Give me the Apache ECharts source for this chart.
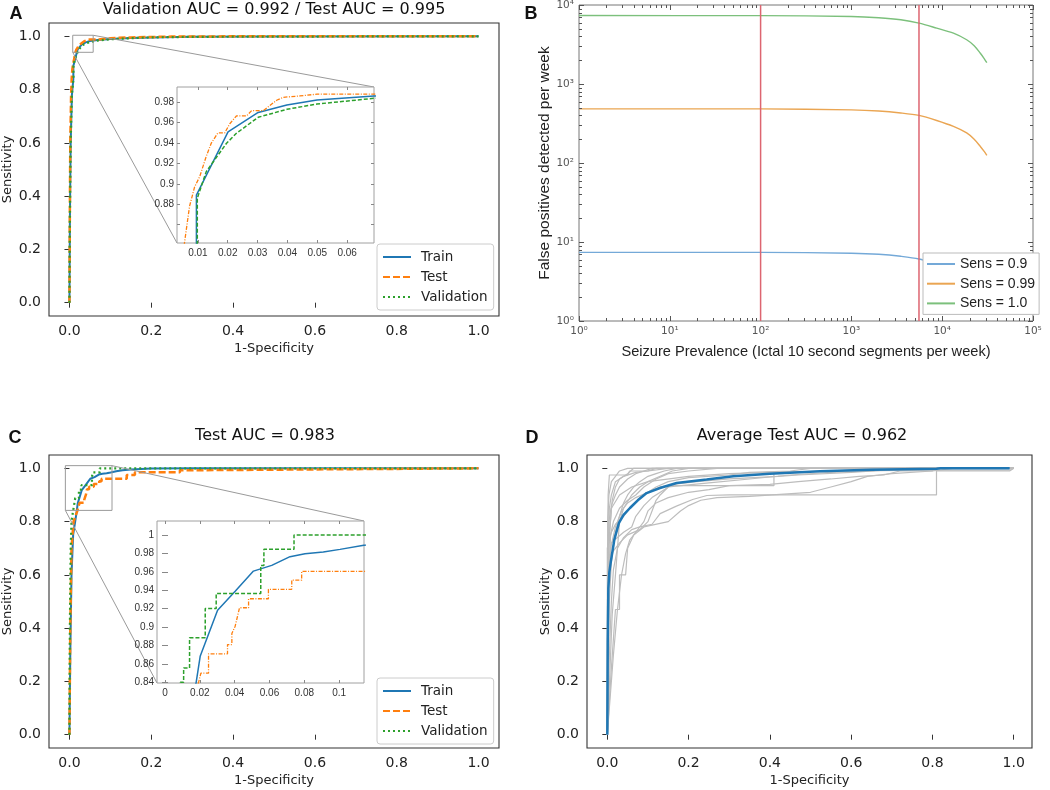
<!DOCTYPE html>
<html><head><meta charset="utf-8">
<script src="https://cdn.jsdelivr.net/npm/echarts@6/dist/echarts.min.js"></script>
<style>html,body{margin:0;padding:0;background:#fff}#c{width:1050px;height:790px}</style>
</head><body><div id="c"></div>
<script>
// ================= DATA =================
// Panel A: ROC curves [1-specificity, sensitivity]
const trainA = [[0,0],[0.001,0.3],[0.003,0.6],[0.006,0.78],[0.0095,0.84],[0.0095,0.889],[0.0201,0.951],[0.0302,0.970],[0.0398,0.9774],[0.0499,0.9823],[0.069,0.9862],[0.1,0.990],[0.15,0.994],[0.2,0.996],[0.3,0.998],[0.5,0.999],[1,1]];
const testA = [[0,0],[0.001,0.35],[0.002,0.6],[0.004,0.78],[0.0055,0.842],[0.0072,0.878],[0.0089,0.897],[0.0106,0.907],[0.0128,0.927],[0.0145,0.94],[0.0167,0.95],[0.019,0.95],[0.0207,0.959],[0.0229,0.9666],[0.0263,0.9666],[0.028,0.9718],[0.0319,0.9718],[0.0364,0.982],[0.0386,0.9849],[0.0442,0.9862],[0.0499,0.988],[0.069,0.988],[0.1,0.993],[0.15,0.996],[0.25,0.999],[0.4,1],[1,1]];
const valA = [[0,0],[0.001,0.3],[0.003,0.6],[0.006,0.78],[0.0098,0.84],[0.0098,0.886],[0.0128,0.912],[0.0196,0.9398],[0.0229,0.9496],[0.0302,0.9653],[0.0398,0.9731],[0.0499,0.9783],[0.069,0.9839],[0.1,0.989],[0.15,0.993],[0.2,0.996],[0.3,0.998],[0.5,0.999],[1,1]];
const zoomBoxA = {x:[0.008,0.058], y:[0.94,1.004]};
const insetRangeA = {x:[0.003,0.069], y:[0.842,0.995]};
const insetTicksAx = [0.01,0.02,0.03,0.04,0.05,0.06];
const insetTicksAy = [0.86,0.88,0.9,0.92,0.94,0.96,0.98];
const insetLabelsAy = [0.88,0.9,0.92,0.94,0.96,0.98];

// Panel B: false positives per week vs seizure prevalence
const prevalence = [1,100,1000,2000,3500,5550,8700,13300,18600,22500,26300,29000,31000];
const fpSens090 = [7.4,7.4,7.2,7.0,6.6,6.1,5.2,4.4,3.6,3.0,2.5,2.1,1.9];
const fpSens099 = [485,484,470,455,430,400,345,290,240,200,162,140,125];
const fpSens100 = [7350,7330,7150,6900,6500,5900,5100,4400,3630,3050,2450,2100,1860];
const redLinesB = [100,5550];

// Panel C
const trainC = [[0,0],[0.002,0.3],[0.005,0.6],[0.009,0.75],[0.014,0.8],[0.0179,0.84],[0.0202,0.8683],[0.0302,0.9184],[0.0403,0.939],[0.0508,0.9608],[0.0613,0.967],[0.0718,0.9765],[0.0804,0.9797],[0.0909,0.9815],[0.1005,0.9844],[0.1142,0.9888],[0.13,0.993],[0.15,0.996],[0.2,0.999],[0.3,1],[1,1]];
const testC = [[0,0],[0.002,0.4],[0.005,0.7],[0.01,0.8],[0.0193,0.84],[0.0206,0.85],[0.025,0.85],[0.025,0.871],[0.0359,0.871],[0.0359,0.881],[0.0384,0.881],[0.0384,0.893],[0.0403,0.901],[0.0428,0.921],[0.048,0.921],[0.048,0.9308],[0.0594,0.9308],[0.0594,0.941],[0.0728,0.941],[0.0728,0.951],[0.0785,0.951],[0.0785,0.9605],[0.14,0.9605],[0.14,0.975],[0.16,0.975],[0.16,0.985],[0.27,0.985],[0.27,0.993],[0.33,0.993],[0.33,1],[1,1]];
const valC = [[0,0],[0.001,0.4],[0.003,0.7],[0.005,0.8],[0.0088,0.84],[0.0107,0.84],[0.0107,0.8557],[0.0141,0.8557],[0.0141,0.8884],[0.0231,0.8884],[0.0231,0.9202],[0.0294,0.9202],[0.0294,0.9366],[0.055,0.9366],[0.055,0.967],[0.0568,0.967],[0.0568,0.9844],[0.0741,0.9844],[0.0741,1],[1,1]];
const zoomBoxC = {x:[-0.01,0.104], y:[0.842,1.01]};
const insetRangeC = {x:[-0.0046,0.1143], y:[0.8393,1.0152]};
const insetTicksCx = [0,0.02,0.04,0.06,0.08,0.1];
const insetTicksCy = [0.84,0.86,0.88,0.9,0.92,0.94,0.96,0.98,1];

// Panel D: individual test ROC curves (gray) and their average (blue)
const grayD = [
 [[0,0],[0.001,0.6],[0.002,0.9],[0.005,0.975],[0.05,0.975],[0.055,0.99],[0.1,0.99],[0.12,1],[1,1]],
 [[0,0],[0.005,0.3],[0.01,0.5],[0.015,0.62],[0.025,0.7],[0.04,0.74],[0.06,0.77],[0.08,0.78],[0.11,0.79],[0.13,0.83],[0.17,0.858],[0.21,0.883],[0.245,0.898],[0.3,0.9],[0.81,0.9],[0.81,0.99],[0.99,0.99],[1,1]],
 [[0,0],[0.002,0.55],[0.008,0.7],[0.02,0.78],[0.035,0.84],[0.05,0.87],[0.07,0.89],[0.1,0.91],[0.13,0.93],[0.155,0.935],[0.41,0.935],[0.41,0.985],[0.55,0.99],[0.7,1],[1,1]],
 [[0,0],[0.01,0.25],[0.02,0.47],[0.03,0.47],[0.03,0.6],[0.045,0.6],[0.05,0.7],[0.065,0.75],[0.09,0.78],[0.15,0.8],[0.18,0.84],[0.2,0.86],[0.23,0.88],[0.27,0.89],[0.35,0.895],[0.5,0.91],[0.55,0.93],[0.6,0.95],[0.64,0.97],[0.7,0.98],[0.8,0.99],[0.85,1],[1,1]],
 [[0,0],[0.003,0.6],[0.01,0.72],[0.025,0.74],[0.04,0.76],[0.06,0.78],[0.07,0.82],[0.09,0.86],[0.11,0.89],[0.14,0.92],[0.16,0.94],[0.22,0.95],[0.3,0.96],[0.42,0.97],[0.47,0.975],[0.6,0.985],[0.7,0.995],[0.75,1],[1,1]],
 [[0,0],[0.002,0.7],[0.005,0.85],[0.01,0.9],[0.02,0.95],[0.04,0.97],[0.07,0.985],[0.1,0.99],[0.15,1],[1,1]],
 [[0,0],[0.001,0.5],[0.005,0.75],[0.012,0.88],[0.02,0.93],[0.03,0.96],[0.05,0.98],[0.065,1],[1,1]],
 [[0,0],[0.012,0.45],[0.02,0.6],[0.025,0.7],[0.03,0.8],[0.04,0.85],[0.06,0.9],[0.08,0.93],[0.1,0.95],[0.13,0.97],[0.16,0.99],[0.2,1],[1,1]],
 [[0,0],[0.003,0.55],[0.01,0.68],[0.03,0.72],[0.05,0.75],[0.08,0.77],[0.1,0.8],[0.11,0.84],[0.12,0.88],[0.13,0.9],[0.15,0.93],[0.25,0.945],[0.35,0.96],[0.45,0.975],[0.55,0.985],[0.65,0.99],[0.7,1],[1,1]],
 [[0,0],[0.005,0.5],[0.01,0.65],[0.02,0.76],[0.03,0.82],[0.04,0.87],[0.05,0.9],[0.065,0.93],[0.08,0.95],[0.1,0.97],[0.12,0.98],[0.14,0.99],[0.17,1],[1,1]],
 [[0,0],[0.002,0.6],[0.004,0.8],[0.01,0.86],[0.02,0.9],[0.03,0.93],[0.05,0.96],[0.07,0.98],[0.09,0.99],[0.11,1],[1,1]],
 [[0,0],[0,0.7],[0.01,0.76],[0.02,0.79],[0.04,0.82],[0.06,0.86],[0.08,0.89],[0.1,0.91],[0.12,0.93],[0.15,0.95],[0.2,0.965],[0.3,0.975],[0.35,0.985],[0.45,0.99],[0.5,1],[1,1]],
 [[0,0],[0.015,0.3],[0.025,0.47],[0.035,0.6],[0.045,0.68],[0.055,0.73],[0.07,0.76],[0.09,0.8],[0.1,0.84],[0.12,0.87],[0.15,0.89],[0.2,0.91],[0.25,0.92],[0.3,0.935],[0.4,0.94],[0.47,0.95],[0.55,0.96],[0.62,0.97],[0.68,0.975],[0.72,0.99],[0.8,0.99],[0.8,1],[1,1]],
 [[0,0],[0.001,0.8],[0.004,0.9],[0.01,0.95],[0.02,0.97],[0.03,0.99],[0.05,1],[1,1]],
 [[0,0],[0.004,0.6],[0.008,0.75],[0.015,0.8],[0.03,0.85],[0.05,0.88],[0.07,0.9],[0.09,0.93],[0.12,0.96],[0.15,0.98],[0.2,0.99],[0.27,1],[1,1]],
 [[0,0],[0.003,0.7],[0.01,0.85],[0.03,0.9],[0.06,0.93],[0.1,0.95],[0.2,0.97],[0.3,0.98],[0.4,0.985],[0.6,0.99],[0.8,0.993],[0.99,0.993],[1,1]]
];
const meanD = [[0,0],[0.001,0.35],[0.0025,0.55],[0.005,0.61],[0.0082,0.645],[0.0172,0.732],[0.0287,0.795],[0.04,0.825],[0.0557,0.851],[0.075,0.88],[0.0967,0.907],[0.1295,0.926],[0.1705,0.945],[0.2443,0.958],[0.31,0.97],[0.4,0.98],[0.523,0.989],[0.65,0.995],[0.81,0.998],[0.82,1.0],[0.99,1.0]];

const mainTicks = [0,0.2,0.4,0.6,0.8,1.0];
const rocNames = ['Train','Test','Validation'];
const sensNames = ['Sens = 0.9','Sens = 0.99','Sens = 1.0'];

// ================= LAYOUT / STYLE =================
const F = 'DejaVu Sans', FA = 'Liberation Sans';
const G = {
  A:{left:49,top:23,width:450,height:293},
  Ain:{left:177,top:87,width:197,height:156},
  B:{left:579,top:5,width:454,height:316},
  C:{left:49,top:455,width:450,height:293},
  Cin:{left:157,top:521,width:207,height:162},
  D:{left:587,top:455,width:445,height:293}
};
const C_BLUE='#1f77b4', C_OR='#ff7f0e', C_GR='#2ca02c';

function grid(g, extra){ return Object.assign({left:g.left,top:g.top,width:g.width,height:g.height,show:true,borderColor:'#333',borderWidth:1.1,backgroundColor:'rgba(0,0,0,0)',containLabel:false,outerBoundsMode:'none'}, extra||{}); }
function mainX(gi,min,max){ return {type:'value',gridIndex:gi,min,max,name:'1-Specificity',nameLocation:'middle',nameGap:26,
  nameTextStyle:{fontFamily:F,fontSize:13,color:'#222'},axisLine:{show:false},splitLine:{show:false},
  axisTick:{show:true,length:5,lineStyle:{color:'#333',width:1},customValues:mainTicks},
  axisLabel:{fontFamily:F,fontSize:14,color:'#222',margin:8,customValues:mainTicks,formatter:v=>v.toFixed(1)}}; }
function mainY(gi,min,max){ return {type:'value',gridIndex:gi,min,max,name:'Sensitivity',nameLocation:'middle',nameGap:35,nameRotate:90,
  nameTextStyle:{fontFamily:F,fontSize:13,color:'#222'},axisLine:{show:false},splitLine:{show:false},
  axisTick:{show:true,length:5,lineStyle:{color:'#333',width:1},customValues:mainTicks},
  axisLabel:{fontFamily:F,fontSize:14,color:'#222',margin:8,customValues:mainTicks,formatter:v=>v.toFixed(1)}}; }
function insetAxis(kind,gi,range,ticks,labels,pos,showLab){
  return {type:'value',gridIndex:gi,min:range[0],max:range[1],position:pos,z:6,
    axisLine:{show:false},splitLine:{show:false},
    axisTick:{show:true,inside:true,length:3,lineStyle:{color:'#888',width:1},customValues:ticks},
    axisLabel:{show:showLab,fontFamily:FA,fontSize:10,color:'#333',margin:kind==='x'?5:3,customValues:labels}};
}
const supDigits = ['⁰','¹','²','³','⁴','⁵'];
function logAxis(gi,min,max,pos,showLab){
  return {type:'log',logBase:10,gridIndex:gi,min,max,position:pos,
    axisLine:{show:false},splitLine:{show:false},minorTick:{show:false},
    axisTick:{show:true,inside:true,length:5,lineStyle:{color:'#555',width:1}},
    axisLabel:{show:showLab,fontFamily:F,fontSize:10.5,color:'#555',margin:5,
      formatter:v=>'10'+supDigits[Math.round(Math.log10(v))]}};
}

function lineSeries(name,data,xi,yi,style,z,smooth){
  return {type:'line',name,data,xAxisIndex:xi,yAxisIndex:yi,symbol:'none',showSymbol:false,clip:true,z:z||2,
    smooth:smooth||false,silent:true,animation:false,lineStyle:style,itemStyle:{color:style.color}};
}
// zoom box + connector lines (box in main data coords, connectors to the inset grid corners)
function connectorSeries(xi,yi,box,ins){
  return {type:'custom',xAxisIndex:xi,yAxisIndex:yi,data:[[0,0]],z:3,silent:true,animation:false,clip:false,
    renderItem:function(params,api){
      const p0 = api.coord([box.x[0],box.y[0]]);
      const p1 = api.coord([box.x[1],box.y[1]]);
      const st = {stroke:'#9a9a9a',lineWidth:1,fill:null};
      return {type:'group',children:[
        {type:'rect',shape:{x:p0[0],y:p1[1],width:p1[0]-p0[0],height:p0[1]-p1[1]},style:st},
        {type:'line',shape:{x1:p1[0],y1:p1[1],x2:ins.left+ins.width,y2:ins.top},style:st},
        {type:'line',shape:{x1:p0[0],y1:p0[1],x2:ins.left,y2:ins.top+ins.height},style:st}
      ]};
    }};
}

const styTrain = {color:C_BLUE,width:2};
const styTest = {color:C_OR,width:2.5,type:[7,3]};
const styVal = {color:C_GR,width:2.2,type:[2,3]};
const styTrainIn = {color:C_BLUE,width:1.5};
const styTestIn = {color:C_OR,width:1.3,type:[4,1.5,1,1.5]};
const styValIn = {color:C_GR,width:1.5,type:[4,2]};

const series = [
  lineSeries('Train',trainA,0,0,styTrain),
  lineSeries('Test',testA,0,0,styTest),
  lineSeries('Validation',valA,0,0,styVal),
  connectorSeries(0,0,zoomBoxA,G.Ain),
  lineSeries('Train (inset A)',trainA,1,1,styTrainIn,7),
  lineSeries('Test (inset A)',testA,1,1,styTestIn,7),
  lineSeries('Validation (inset A)',valA,1,1,styValIn,7),
  lineSeries(sensNames[0],prevalence.map((x,i)=>[x,fpSens090[i]]),3,3,{color:'#74a9d8',width:1.4},2,0.3),
  lineSeries(sensNames[1],prevalence.map((x,i)=>[x,fpSens099[i]]),3,3,{color:'#eaa552',width:1.4},2,0.3),
  lineSeries(sensNames[2],prevalence.map((x,i)=>[x,fpSens100[i]]),3,3,{color:'#7cc07c',width:1.4},2,0.3),
  ...redLinesB.map((x,i)=>lineSeries('marker'+i,[[x,1],[x,10000]],3,3,{color:'#dd6570',width:1.5},3)),
  {type:'custom',xAxisIndex:3,yAxisIndex:3,data:[[1,1]],z:4,silent:true,animation:false,clip:false,
    renderItem:function(params,api){
      const cs = params.coordSys; const ch=[]; const st={stroke:'#555',lineWidth:1};
      for(let d=0;d<5;d++) for(let k=2;k<10;k++){ const px=Math.round(api.coord([k*Math.pow(10,d),1])[0])+0.5;
        ch.push({type:'line',shape:{x1:px,y1:cs.y+cs.height,x2:px,y2:cs.y+cs.height-3},style:st});
        ch.push({type:'line',shape:{x1:px,y1:cs.y,x2:px,y2:cs.y+3},style:st}); }
      for(let d=0;d<4;d++) for(let k=2;k<10;k++){ const py=Math.round(api.coord([1,k*Math.pow(10,d)])[1])+0.5;
        ch.push({type:'line',shape:{x1:cs.x,y1:py,x2:cs.x+3,y2:py},style:st});
        ch.push({type:'line',shape:{x1:cs.x+cs.width,y1:py,x2:cs.x+cs.width-3,y2:py},style:st}); }
      return {type:'group',children:ch};
    }},
  lineSeries('Train',trainC,5,5,styTrain),
  lineSeries('Test',testC,5,5,styTest),
  lineSeries('Validation',valC,5,5,styVal),
  connectorSeries(5,5,zoomBoxC,G.Cin),
  lineSeries('Train (inset C)',trainC,6,6,styTrainIn,7),
  lineSeries('Test (inset C)',testC,6,6,styTestIn,7),
  lineSeries('Validation (inset C)',valC,6,6,styValIn,7),
  ...grayD.map((d,i)=>lineSeries('fold'+i,d,8,8,{color:'#bdbdbd',width:1.2})),
  lineSeries('Average',meanD,8,8,{color:C_BLUE,width:2.5},3)
];

function legendBox(names,left,top,extra){
  return Object.assign({data:names,left,top,orient:'vertical',selectedMode:false,z:10,
    itemWidth:28,itemHeight:14,itemGap:6,padding:[6,6,6,5],backgroundColor:'#fff',borderColor:'#cccccc',borderWidth:1,borderRadius:3,
    itemStyle:{opacity:0},
    textStyle:{fontFamily:F,fontSize:13.5,color:'#222',padding:[0,0,0,5]}},extra||{});
}

function txt(x,y,t,size,fam,weight,align){
  return {type:'text',x,y,z:20,style:{text:t,fontSize:size,fontFamily:fam,fontWeight:weight||'normal',fill:'#111',
    align:align||'center',textAlign:align||'center',verticalAlign:'middle',textVerticalAlign:'middle'}};
}

const option = {
  animation:false,
  backgroundColor:'#fff',
  grid:[grid(G.A),grid(G.Ain,{z:5,backgroundColor:'#fff',borderColor:'#a0a0a0',borderWidth:1}),grid(G.B,{borderColor:'#777',borderWidth:1}),
        grid(G.C),grid(G.Cin,{z:5,backgroundColor:'#fff',borderColor:'#a0a0a0',borderWidth:1}),grid(G.D)],
  xAxis:[
    mainX(0,-0.05,1.05),
    insetAxis('x',1,insetRangeA.x,insetTicksAx,insetTicksAx,'bottom',true),
    insetAxis('x',1,insetRangeA.x,insetTicksAx,insetTicksAx,'top',false),
    Object.assign(logAxis(2,1,100000,'bottom',true),{name:'Seizure Prevalence (Ictal 10 second segments per week)',nameLocation:'middle',nameGap:23,
      nameTextStyle:{fontFamily:FA,fontSize:14.6,color:'#222'}}),
    logAxis(2,1,100000,'top',false),
    mainX(3,-0.05,1.05),
    insetAxis('x',4,insetRangeC.x,insetTicksCx,insetTicksCx,'bottom',true),
    insetAxis('x',4,insetRangeC.x,insetTicksCx,insetTicksCx,'top',false),
    mainX(5,-0.05,1.045)
  ],
  yAxis:[
    mainY(0,-0.05,1.05),
    insetAxis('y',1,insetRangeA.y,insetTicksAy,insetLabelsAy,'left',true),
    insetAxis('y',1,insetRangeA.y,insetTicksAy,insetLabelsAy,'right',false),
    Object.assign(logAxis(2,1,10000,'left',true),{name:'False positives detected per week',nameLocation:'middle',nameGap:24,nameRotate:90,
      nameTextStyle:{fontFamily:FA,fontSize:15.5,color:'#222'}}),
    logAxis(2,1,10000,'right',false),
    mainY(3,-0.05,1.05),
    insetAxis('y',4,insetRangeC.y,insetTicksCy,insetTicksCy,'left',true),
    insetAxis('y',4,insetRangeC.y,insetTicksCy,insetTicksCy,'right',false),
    mainY(5,-0.05,1.05)
  ],
  legend:[
    legendBox(rocNames,377,244),
    legendBox(sensNames,923,253,{padding:[4,4,4,3],itemGap:5.7,textStyle:{fontFamily:FA,fontSize:14,color:'#222',padding:[0,0,0,0]},borderColor:'#bbb',borderRadius:0}),
    legendBox(rocNames,377,678)
  ],
  series,
  graphic:[
    txt(274,10,'Validation AUC = 0.992 / Test AUC = 0.995',16,F),
    txt(265,436,'Test AUC = 0.983',16,F),
    txt(802,436,'Average Test AUC = 0.962',16,F),
    txt(16,14,'A',18,FA,'bold'),
    txt(531,14,'B',18,FA,'bold'),
    txt(15,438,'C',18,FA,'bold'),
    txt(532,438,'D',18,FA,'bold')
  ]
};
const chart = echarts.init(document.getElementById('c'),null,{renderer:'canvas'});
chart.setOption(option);
</script></body></html>
